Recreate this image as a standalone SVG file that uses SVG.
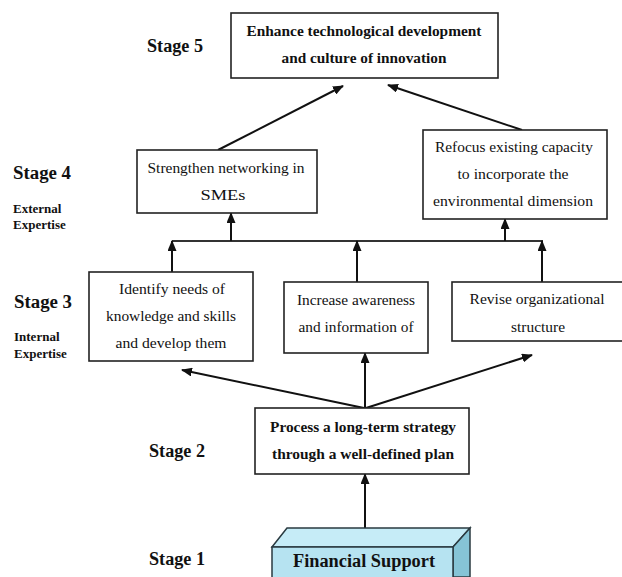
<svg xmlns="http://www.w3.org/2000/svg" width="622" height="577" viewBox="0 0 622 577">
<style>
.box{fill:#fff;stroke:#222;stroke-width:1.6}
.t{font-family:"Liberation Serif","Times New Roman",serif;font-size:15px;fill:#111;text-anchor:middle}
.b{font-weight:bold}
.stage{font-family:"Liberation Serif","Times New Roman",serif;font-size:18px;font-weight:bold;fill:#111}
.sub{font-family:"Liberation Serif","Times New Roman",serif;font-size:13px;font-weight:bold;fill:#111}
.c{fill:none;stroke:#111;stroke-width:2}
.bus{fill:none;stroke:#333;stroke-width:2}
</style>
<defs>
<marker id="ah" markerUnits="userSpaceOnUse" markerWidth="11" markerHeight="9" refX="10" refY="4.5" orient="auto" viewBox="0 0 11 9">
<path d="M0,0 L11,4.5 L0,9 z" fill="#111"/>
</marker>
</defs>

<g id="labels">
<text class="stage" x="147" y="52" textLength="56" lengthAdjust="spacingAndGlyphs">Stage 5</text>
<text class="stage" x="13" y="179" textLength="58" lengthAdjust="spacingAndGlyphs">Stage 4</text>
<text class="sub" x="13" y="213">External</text>
<text class="sub" x="13" y="229">Expertise</text>
<text class="stage" x="14" y="308" textLength="58" lengthAdjust="spacingAndGlyphs">Stage 3</text>
<text class="sub" x="14" y="341">Internal</text>
<text class="sub" x="14" y="358">Expertise</text>
<text class="stage" x="149" y="457" textLength="56" lengthAdjust="spacingAndGlyphs">Stage 2</text>
<text class="stage" x="149" y="565" textLength="56" lengthAdjust="spacingAndGlyphs">Stage 1</text>
</g>

<g id="connectors">
<line class="c" x1="218" y1="150" x2="343" y2="86" marker-end="url(#ah)"/>
<line class="c" x1="522" y1="130" x2="388" y2="85" marker-end="url(#ah)"/>
<line class="bus" x1="172" y1="241" x2="543" y2="241"/>
<line class="c" x1="231" y1="241" x2="231" y2="213" marker-end="url(#ah)"/>
<line class="c" x1="505" y1="241" x2="505" y2="219" marker-end="url(#ah)"/>
<line class="c" x1="172" y1="272" x2="172" y2="241" marker-end="url(#ah)"/>
<line class="c" x1="357" y1="282" x2="357" y2="241" marker-end="url(#ah)"/>
<line class="c" x1="542" y1="282" x2="542" y2="241" marker-end="url(#ah)"/>
<line class="c" x1="364" y1="408" x2="182" y2="370" marker-end="url(#ah)"/>
<line class="c" x1="365" y1="408" x2="365" y2="353" marker-end="url(#ah)"/>
<line class="c" x1="366" y1="408" x2="532" y2="355" marker-end="url(#ah)"/>
<line class="c" x1="365" y1="528" x2="365" y2="474" marker-end="url(#ah)"/>
</g>

<g id="n5">
<rect class="box" x="231" y="13" width="267" height="65"/>
<text class="t b" x="364" y="36" textLength="235" lengthAdjust="spacingAndGlyphs">Enhance technological development</text>
<text class="t b" x="364" y="63" textLength="165" lengthAdjust="spacingAndGlyphs">and culture of innovation</text>
</g>

<g id="n4a">
<rect class="box" x="137" y="150" width="180" height="63"/>
<text class="t" x="226" y="173" textLength="157" lengthAdjust="spacingAndGlyphs">Strengthen networking in</text>
<text class="t" x="223" y="200" textLength="45" lengthAdjust="spacingAndGlyphs">SMEs</text>
</g>

<g id="n4b">
<rect class="box" x="423" y="130" width="184" height="89"/>
<text class="t" x="514" y="152" textLength="158" lengthAdjust="spacingAndGlyphs">Refocus existing capacity</text>
<text class="t" x="513" y="179" textLength="111" lengthAdjust="spacingAndGlyphs">to incorporate the</text>
<text class="t" x="513" y="206" textLength="160" lengthAdjust="spacingAndGlyphs">environmental dimension</text>
</g>

<g id="n3a">
<rect class="box" x="89" y="272" width="164" height="89"/>
<text class="t" x="172" y="294" textLength="106" lengthAdjust="spacingAndGlyphs">Identify needs of</text>
<text class="t" x="171" y="321" textLength="130" lengthAdjust="spacingAndGlyphs">knowledge and skills</text>
<text class="t" x="171" y="348" textLength="111" lengthAdjust="spacingAndGlyphs">and develop them</text>
</g>

<g id="n3b">
<rect class="box" x="284" y="282" width="144" height="71"/>
<text class="t" x="356" y="305" textLength="118" lengthAdjust="spacingAndGlyphs">Increase awareness</text>
<text class="t" x="356" y="332" textLength="115" lengthAdjust="spacingAndGlyphs">and information of</text>
</g>

<g id="n3c">
<rect class="box" x="452" y="282" width="175" height="59"/>
<text class="t" x="537" y="304" textLength="135" lengthAdjust="spacingAndGlyphs">Revise organizational</text>
<text class="t" x="538" y="332" textLength="54" lengthAdjust="spacingAndGlyphs">structure</text>
</g>

<g id="n2">
<rect class="box" x="255" y="408" width="214" height="66"/>
<text class="t b" x="363" y="432" textLength="186" lengthAdjust="spacingAndGlyphs">Process a long-term strategy</text>
<text class="t b" x="363" y="459" textLength="182" lengthAdjust="spacingAndGlyphs">through a well-defined plan</text>
</g>

<g id="n1">
<polygon points="272,547 287,528 470,528 453,547" fill="#c6ecf7" stroke="#2a3a40" stroke-width="1.5"/>
<polygon points="453,547 470,528 470,577 453,577" fill="#86c4d6" stroke="#2a3a40" stroke-width="1.5"/>
<rect x="272" y="547" width="181" height="32" fill="#b6e3f1" stroke="#2a3a40" stroke-width="1.5"/>
<text class="t b" x="364" y="567" font-size="18" textLength="142" lengthAdjust="spacingAndGlyphs" style="font-size:18px">Financial Support</text>
</g>
</svg>
